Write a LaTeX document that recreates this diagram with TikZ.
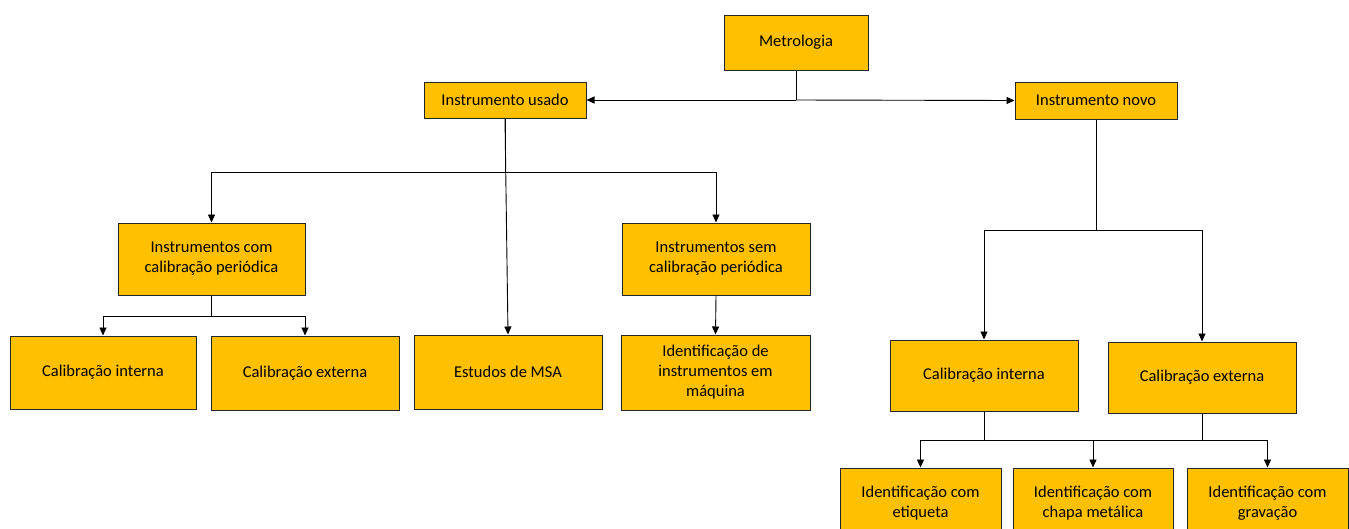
\documentclass[tikz,border=0pt]{standalone}
\usepackage{fontspec}
\setmainfont{Carlito}
\usetikzlibrary{arrows.meta}
\definecolor{gold}{HTML}{FFC000}
\tikzset{
  box/.style={draw=black!85, line width=1pt, fill=gold, align=center, inner sep=0pt,
    font=\fontsize{16.5}{20}\selectfont},
  conn/.style={draw=black, line width=0.9pt},
  arr/.style={conn, -{Triangle[length=8pt,width=7pt]}}
}
\begin{document}
\begin{tikzpicture}[x=1pt,y=-1pt]
\useasboundingbox (0,0) rectangle (1349,528);
\clip (0,0) rectangle (1349,528);
% nodes
\node[box, minimum width=144pt, minimum height=55pt] (met) at (796,42.5) {Metrologia};
\node[box, minimum width=162pt, minimum height=36pt] (usado) at (505,100) {Instrumento usado};
\node[box, minimum width=162pt, minimum height=37pt] (novo) at (1096,100.5) {Instrumento novo};
\node[box, minimum width=187pt, minimum height=72pt] (icom) at (211.5,259) {Instrumentos com\\calibração periódica};
\node[box, minimum width=188pt, minimum height=72pt] (isem) at (716,259) {Instrumentos sem\\calibração periódica};
\node[box, minimum width=186pt, minimum height=73pt] (ci1) at (103,372.5) {Calibração interna};
\node[box, minimum width=188pt, minimum height=74pt] (ce1) at (305,373) {Calibração externa};
\node[box, minimum width=188pt, minimum height=74pt] (msa) at (508,372) {Estudos de MSA};
\node[box, minimum width=189pt, minimum height=75pt] (idm) at (715.5,372.5) {Identificação de\\instrumentos em\\máquina};
\node[box, minimum width=188pt, minimum height=71pt] (ci2) at (984,375.5) {Calibração interna};
\node[box, minimum width=188pt, minimum height=71pt] (ce2) at (1202,377.5) {Calibração externa};
\node[box, minimum width=161pt, minimum height=70pt] (et) at (920.5,503) {Identificação com\\etiqueta};
\node[box, minimum width=160pt, minimum height=70pt] (ch) at (1093,503) {Identificação com\\chapa metálica};
\node[box, minimum width=161pt, minimum height=70pt] (gr) at (1267.5,503) {Identificação com\\gravação};
% junctions
\coordinate (j0) at (796,100);
\coordinate (j1) at (505,172);
\coordinate (j2) at (211.5,316);
\coordinate (j3) at (1096,230);
\coordinate (j4) at (984,440);
% connectors
\draw[conn] (met.south) -- (j0);
\draw[arr] (j0) -- (usado.east);
\draw[arr] (j0) -- (novo.west);
\draw[conn] (usado.south) -- (j1);
\draw[arr] (j1) -| (icom.north);
\draw[arr] (j1) -| (isem.north);
\draw[arr] (usado.south) -- (msa.north);
\draw[conn] (icom.south) -- (j2);
\draw[arr] (j2) -| (ci1.north);
\draw[arr] (j2) -| (ce1.north);
\draw[arr] (isem.south) -- (idm.north);
\draw[conn] (novo.south) -- (j3);
\draw[arr] (j3) -| (ci2.north);
\draw[arr] (j3) -| (ce2.north);
\draw[conn] (ci2.south) -- (j4);
\draw[conn] (ce2.south) -- (ce2.south |- j4);
\draw[arr] (j4) -| (et.north);
\draw[arr] (j4) -| (ch.north);
\draw[arr] (j4) -| (gr.north);
\end{tikzpicture}
\end{document}
